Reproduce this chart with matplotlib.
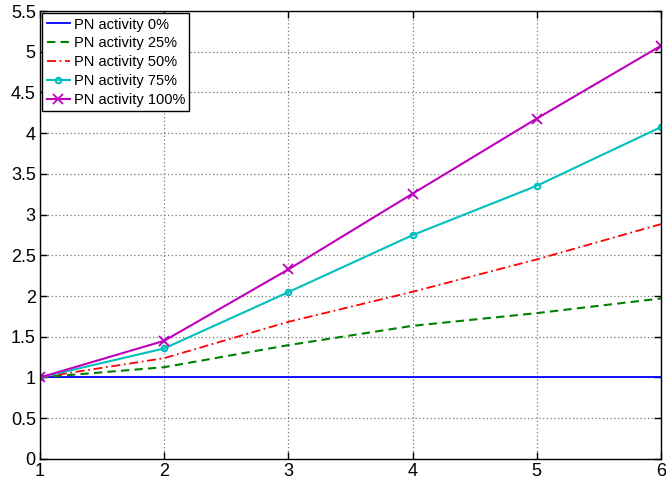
import matplotlib
matplotlib.use("Agg")
import matplotlib.pyplot as plt

x = [1, 2, 3, 4, 5, 6]
pn0 = [1, 1, 1, 1, 1, 1]
pn25 = [1, 1.126, 1.397, 1.634, 1.79, 1.97]
pn50 = [1, 1.237, 1.683, 2.052, 2.45, 2.883]
pn75 = [1, 1.356, 2.048, 2.748, 3.354, 4.075]
pn100 = [1, 1.45, 2.327, 3.257, 4.18, 5.074]
labels = ["PN activity 0%", "PN activity 25%", "PN activity 50%",
          "PN activity 75%", "PN activity 100%"]
yticks = [0, 0.5, 1, 1.5, 2, 2.5, 3, 3.5, 4, 4.5, 5, 5.5]
yticklabels = ["0", "0.5", "1", "1.5", "2", "2.5", "3", "3.5", "4", "4.5", "5", "5.5"]

plt.rcParams['font.family'] = ['Liberation Sans', 'DejaVu Sans']

fig = plt.figure(figsize=(6.66, 4.8), dpi=100)
ax = fig.add_axes([0.06, 0.044, 0.9325, 0.933])

ax.plot(x, pn0, color=(0, 0, 1), lw=1.3, label=labels[0])
ax.plot(x, pn25, color=(0, 0.5, 0), lw=1.5, ls=(0, (4, 2.5)), label=labels[1])
ax.plot(x, pn50, color=(1, 0, 0), lw=1.3, ls=(0, (5, 2, 1, 2)), label=labels[2])
ax.plot(x, pn75, color=(0, 0.75, 0.75), lw=1.5, marker='o', ms=4,
        mfc='none', mew=1.5, label=labels[3])
ax.plot(x, pn100, color=(0.75, 0, 0.75), lw=1.5, marker='x', ms=7,
        mew=1.3, label=labels[4])

ax.set_xlim(1, 6)
ax.set_ylim(0, 5.5)
ax.set_xticks(x)
ax.set_yticks(yticks)
ax.set_yticklabels(yticklabels)
ax.tick_params(direction='in', length=5, width=1, top=True, right=True,
               labelsize=13, pad=3)
ax.grid(True, ls=(0, (1, 2)), color='#777777', lw=0.9)
for s in ax.spines.values():
    s.set_linewidth(1.0)

leg = ax.legend(loc='upper left', fontsize=10.5, handlelength=1.6,
                handletextpad=0.25, borderpad=0.3, labelspacing=0.33,
                fancybox=False, edgecolor='black', framealpha=1,
                borderaxespad=0.15)
leg.get_frame().set_linewidth(1.0)

fig.savefig("out.png", dpi=100)
